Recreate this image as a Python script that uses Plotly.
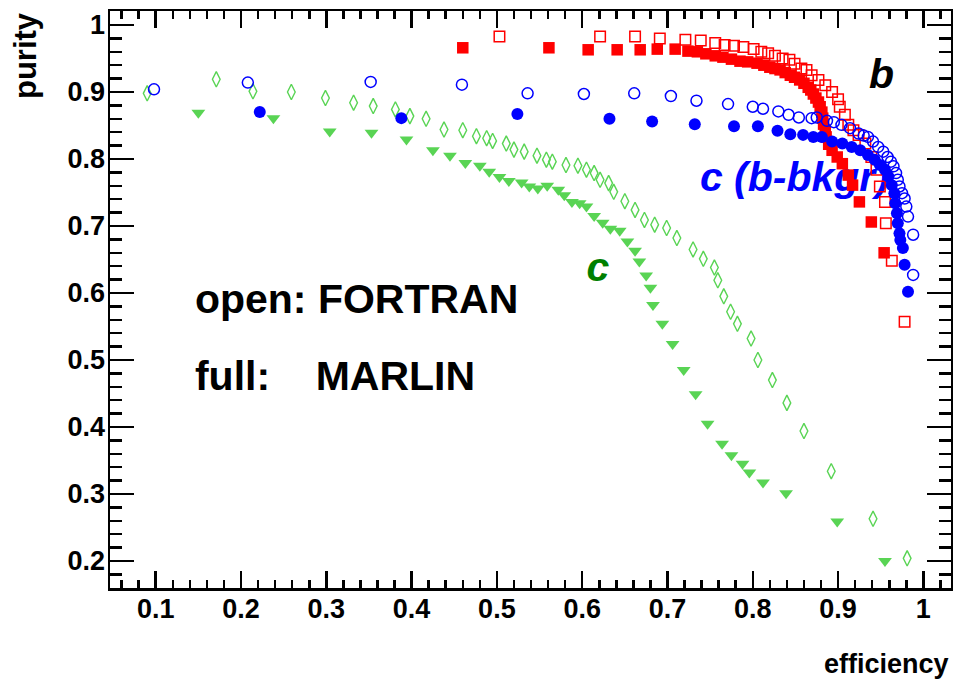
import plotly.graph_objects as go

# ---------------- data ----------------
# b-tag, FORTRAN (open red squares)
b_fortran_eff = [0.503, 0.621, 0.662, 0.691, 0.721, 0.739, 0.756, 0.767, 0.778, 0.789,
                 0.801, 0.810, 0.818, 0.826, 0.835, 0.843, 0.849, 0.857, 0.863, 0.869,
                 0.877, 0.885, 0.893, 0.900, 0.902, 0.908, 0.912, 0.918, 0.924, 0.932,
                 0.939, 0.945, 0.949, 0.955, 0.956, 0.963, 0.978]
b_fortran_pur = [0.983, 0.983, 0.983, 0.980, 0.978, 0.977, 0.973, 0.970, 0.969, 0.967,
                 0.964, 0.960, 0.958, 0.954, 0.950, 0.948, 0.942, 0.935, 0.933, 0.925,
                 0.918, 0.910, 0.900, 0.889, 0.878, 0.866, 0.851, 0.843, 0.836, 0.823,
                 0.803, 0.784, 0.759, 0.736, 0.704, 0.648, 0.557]

# b-tag, MARLIN (full red squares)
b_marlin_eff = [0.460, 0.561, 0.607, 0.641, 0.668, 0.688, 0.709, 0.724, 0.735, 0.745,
                0.756, 0.765, 0.775, 0.785, 0.794, 0.805, 0.813, 0.820, 0.826, 0.832,
                0.838, 0.844, 0.849, 0.855, 0.860, 0.865, 0.868, 0.871, 0.874, 0.877,
                0.879, 0.881, 0.882, 0.883, 0.885, 0.886, 0.889, 0.893, 0.899, 0.905,
                0.912, 0.917, 0.925, 0.939, 0.954]
b_marlin_pur = [0.966, 0.966, 0.963, 0.963, 0.963, 0.964, 0.964, 0.961, 0.960, 0.957,
                0.954, 0.952, 0.949, 0.946, 0.945, 0.943, 0.940, 0.937, 0.935, 0.933,
                0.929, 0.925, 0.922, 0.918, 0.913, 0.907, 0.903, 0.897, 0.891, 0.885,
                0.878, 0.870, 0.861, 0.852, 0.843, 0.833, 0.822, 0.813, 0.803, 0.793,
                0.776, 0.761, 0.736, 0.706, 0.660]

# c-tag with b background, FORTRAN (open blue circles)
cb_fortran_eff = [0.098, 0.208, 0.352, 0.459, 0.536, 0.602, 0.661, 0.704, 0.734, 0.771,
                  0.800, 0.812, 0.830, 0.842, 0.854, 0.869, 0.875, 0.887, 0.895, 0.904,
                  0.914, 0.924, 0.930, 0.935, 0.941, 0.947, 0.953, 0.958, 0.962, 0.965,
                  0.968, 0.970, 0.972, 0.975, 0.978, 0.980, 0.982, 0.988, 0.988]
cb_fortran_pur = [0.904, 0.914, 0.915, 0.911, 0.898, 0.897, 0.898, 0.894, 0.887, 0.882,
                  0.878, 0.875, 0.871, 0.866, 0.862, 0.861, 0.862, 0.857, 0.855, 0.851,
                  0.846, 0.838, 0.835, 0.833, 0.826, 0.818, 0.811, 0.803, 0.796, 0.789,
                  0.779, 0.769, 0.759, 0.749, 0.741, 0.729, 0.714, 0.687, 0.627]

# c-tag with b background, MARLIN (full blue circles)
cb_marlin_eff = [0.222, 0.388, 0.524, 0.632, 0.682, 0.732, 0.778, 0.806, 0.829, 0.844,
                 0.859, 0.871, 0.881, 0.893, 0.905, 0.916, 0.926, 0.935, 0.943, 0.949,
                 0.955, 0.959, 0.963, 0.966, 0.967, 0.969, 0.970, 0.972, 0.973, 0.976,
                 0.978, 0.982]
cb_marlin_pur = [0.870, 0.861, 0.867, 0.860, 0.856, 0.852, 0.849, 0.849, 0.842, 0.837,
                 0.836, 0.833, 0.833, 0.826, 0.823, 0.818, 0.813, 0.806, 0.799, 0.791,
                 0.784, 0.774, 0.761, 0.749, 0.734, 0.719, 0.704, 0.689, 0.679, 0.667,
                 0.642, 0.602]

# c-tag, FORTRAN (open green diamonds)
c_fortran_eff = [0.090, 0.171, 0.214, 0.259, 0.299, 0.332, 0.355, 0.381, 0.398, 0.417,
                 0.438, 0.460, 0.476, 0.488, 0.495, 0.511, 0.520, 0.532, 0.547, 0.558,
                 0.565, 0.581, 0.595, 0.605, 0.614, 0.621, 0.631, 0.637, 0.650, 0.662,
                 0.673, 0.685, 0.699, 0.711, 0.730, 0.742, 0.755, 0.759, 0.766, 0.774,
                 0.782, 0.798, 0.806, 0.823, 0.840, 0.860, 0.892, 0.941, 0.981]
c_fortran_pur = [0.898, 0.919, 0.901, 0.900, 0.891, 0.884, 0.879, 0.874, 0.864, 0.860,
                 0.844, 0.843, 0.834, 0.831, 0.827, 0.823, 0.814, 0.811, 0.805, 0.799,
                 0.796, 0.791, 0.790, 0.784, 0.779, 0.769, 0.764, 0.751, 0.737, 0.724,
                 0.709, 0.702, 0.697, 0.682, 0.665, 0.651, 0.638, 0.619, 0.595, 0.572,
                 0.554, 0.532, 0.500, 0.470, 0.436, 0.394, 0.334, 0.263, 0.204]

# c-tag, MARLIN (full green triangles)
c_marlin_eff = [0.150, 0.238, 0.304, 0.353, 0.394, 0.425, 0.445, 0.463, 0.480, 0.491,
                0.503, 0.514, 0.529, 0.538, 0.548, 0.559, 0.572, 0.579, 0.588, 0.597,
                0.605, 0.614, 0.624, 0.633, 0.644, 0.653, 0.662, 0.667, 0.675, 0.680,
                0.683, 0.694, 0.706, 0.719, 0.733, 0.747, 0.764, 0.775, 0.788, 0.796,
                0.812, 0.839, 0.899, 0.955]
c_marlin_pur = [0.869, 0.861, 0.841, 0.839, 0.829, 0.813, 0.805, 0.794, 0.790, 0.781,
                0.773, 0.767, 0.765, 0.759, 0.756, 0.760, 0.754, 0.746, 0.736, 0.734,
                0.729, 0.715, 0.705, 0.696, 0.693, 0.677, 0.663, 0.647, 0.626, 0.608,
                0.582, 0.554, 0.524, 0.485, 0.449, 0.405, 0.375, 0.358, 0.345, 0.332,
                0.317, 0.301, 0.259, 0.200]

# tick labels
x_tickvals = [0.1, 0.2, 0.3, 0.4, 0.5, 0.6, 0.7, 0.8, 0.9, 1.0]
x_ticktext = ["0.1", "0.2", "0.3", "0.4", "0.5", "0.6", "0.7", "0.8", "0.9", "1"]
y_tickvals = [0.2, 0.3, 0.4, 0.5, 0.6, 0.7, 0.8, 0.9, 1.0]
y_ticktext = ["0.2", "0.3", "0.4", "0.5", "0.6", "0.7", "0.8", "0.9", "1"]

# text labels inside the frame
label_b_pos = (0.951, 0.921)
label_cb_pos = (0.738, 0.767)
label_c_pos = (0.605, 0.633)
label_open_pos = (0.146, 0.5855)
label_full_pos = (0.146, 0.4712)

# ---------------- figure ----------------
FONT = "Liberation Sans, Arial, Helvetica, sans-serif"
RED = "#ff0000"
BLUE = "#0000ff"
GREEN = "#59d454"
DARKGREEN = "#007f00"

fig = go.Figure()


def text_trace(pos, txt, color, italic, position):
    return go.Scatter(
        x=[pos[0]], y=[pos[1]], mode="text", text=[txt], textposition=position,
        textfont=dict(family=FONT, size=41, color=color, weight="bold",
                      style="italic" if italic else "normal"),
        hoverinfo="skip", showlegend=False, cliponaxis=False)


# text first so markers draw on top of it (as in the reference)
fig.add_trace(text_trace(label_cb_pos, "c (b-bkgr)", BLUE, True, "middle right"))
fig.add_trace(text_trace(label_b_pos, "b", "black", True, "middle center"))
fig.add_trace(text_trace(label_c_pos, "c", DARKGREEN, True, "middle right"))
fig.add_trace(text_trace(label_open_pos, "open: FORTRAN", "black", False, "middle right"))
fig.add_trace(text_trace(label_full_pos, "full:\u00a0\u00a0\u00a0\u00a0MARLIN", "black", False, "middle right"))

fig.add_trace(go.Scatter(x=c_fortran_eff, y=c_fortran_pur, mode="markers",
                         marker=dict(symbol="diamond-tall-open", size=11, color=GREEN,
                                     line=dict(width=1.4, color=GREEN)),
                         showlegend=False, cliponaxis=False))
fig.add_trace(go.Scatter(x=c_marlin_eff, y=c_marlin_pur, mode="markers",
                         marker=dict(symbol="triangle-down", size=12, color=GREEN),
                         showlegend=False, cliponaxis=False))
fig.add_trace(go.Scatter(x=b_marlin_eff, y=b_marlin_pur, mode="markers",
                         marker=dict(symbol="square", size=11.5, color=RED),
                         showlegend=False, cliponaxis=False))
fig.add_trace(go.Scatter(x=b_fortran_eff, y=b_fortran_pur, mode="markers",
                         marker=dict(symbol="square-open", size=10.5, color=RED,
                                     line=dict(width=1.5, color=RED)),
                         showlegend=False, cliponaxis=False))
fig.add_trace(go.Scatter(x=cb_fortran_eff, y=cb_fortran_pur, mode="markers",
                         marker=dict(symbol="circle-open", size=11, color=BLUE,
                                     line=dict(width=1.5, color=BLUE)),
                         showlegend=False, cliponaxis=False))
fig.add_trace(go.Scatter(x=cb_marlin_eff, y=cb_marlin_pur, mode="markers",
                         marker=dict(symbol="circle", size=12, color=BLUE),
                         showlegend=False, cliponaxis=False))

tickfont = dict(family=FONT, size=27, color="black", weight="bold")

fig.update_xaxes(
    range=[0.0464, 1.0324], showgrid=False, zeroline=False, automargin=False,
    showline=True, linewidth=2.5, linecolor="black", mirror="ticks",
    ticks="inside", ticklen=17, tickwidth=2.5, tickcolor="black",
    tickvals=x_tickvals, ticktext=x_ticktext, tickfont=tickfont,
    ticklabelstandoff=-5,
    minor=dict(ticks="inside", ticklen=8, tickwidth=2.5, tickcolor="black", dtick=0.02,
               tick0=0, showgrid=False),
)
fig.update_yaxes(
    range=[0.1597, 1.0209], showgrid=False, zeroline=False, automargin=False,
    showline=True, linewidth=2.5, linecolor="black", mirror="ticks",
    ticks="inside", ticklen=24, tickwidth=2.5, tickcolor="black",
    tickvals=y_tickvals, ticktext=y_ticktext, tickfont=tickfont,
    ticklabelstandoff=-3,
    minor=dict(ticks="inside", ticklen=12, tickwidth=2.5, tickcolor="black", dtick=0.02,
               tick0=0, showgrid=False),
)

fig.add_annotation(text="efficiency", xref="paper", yref="paper", x=1.0, y=-0.131,
                   xanchor="right", yanchor="middle", showarrow=False,
                   font=dict(family=FONT, size=27, color="black", weight="bold"))
fig.add_annotation(text="purity", xref="paper", yref="paper", x=-0.1005, y=1.0017,
                   xanchor="center", yanchor="top", textangle=-90, showarrow=False,
                   font=dict(family=FONT, size=31, color="black", weight="bold"))

fig.update_layout(
    width=953, height=684,
    margin=dict(l=110, r=2, t=11, b=96, pad=0, autoexpand=False),
    paper_bgcolor="white", plot_bgcolor="white",
    showlegend=False,
)

fig.write_html("out.html", config={"displayModeBar": False, "staticPlot": True},
               post_script="document.body.style.margin='0';document.body.style.overflow='hidden';")
